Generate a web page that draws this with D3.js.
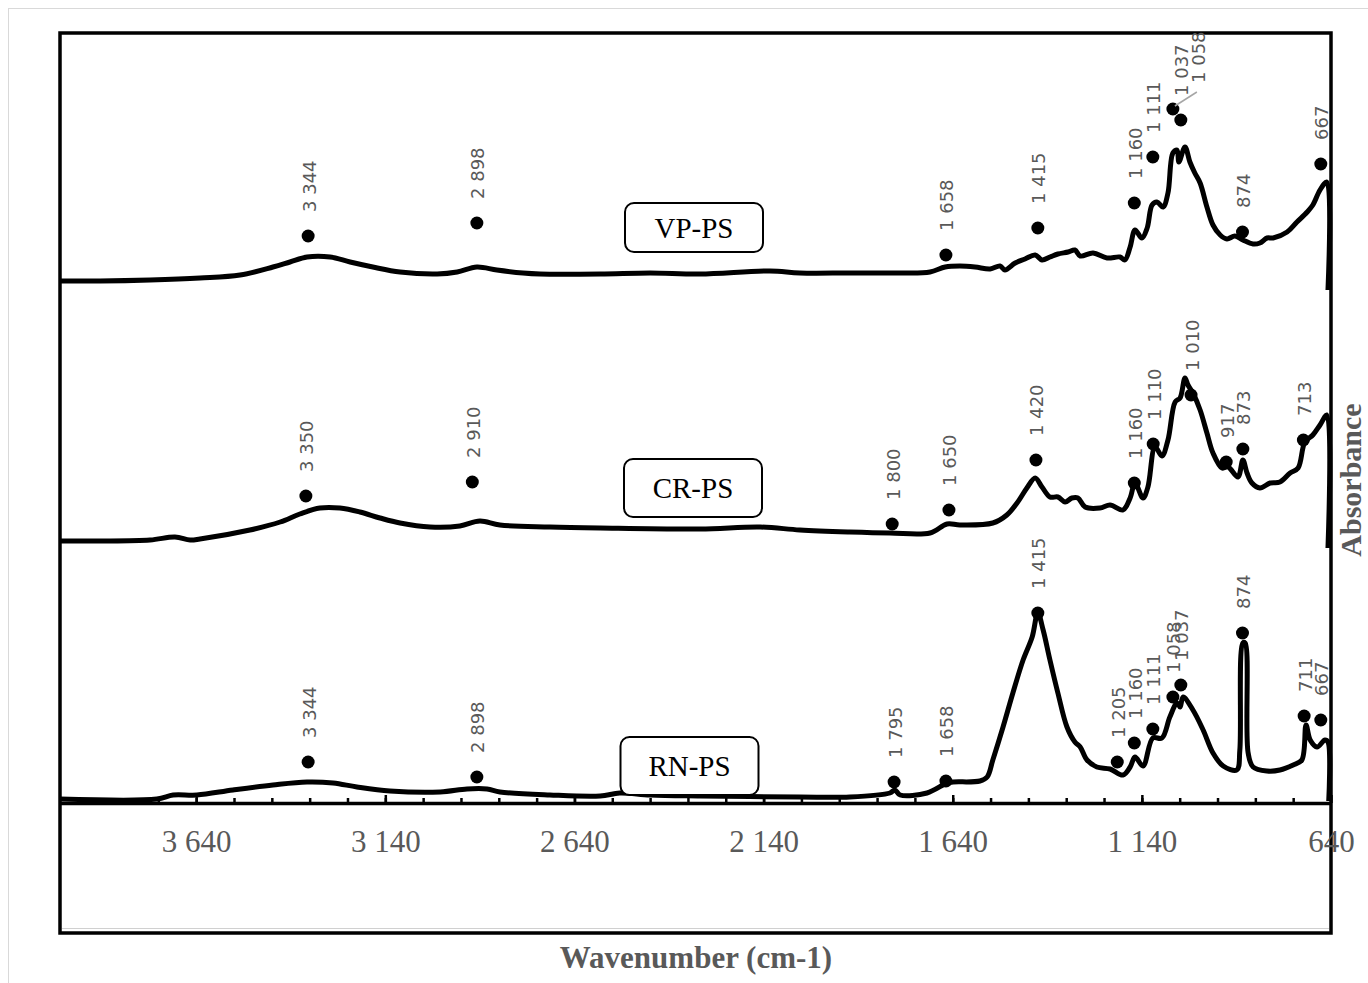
<!DOCTYPE html>
<html>
<head>
<meta charset="utf-8">
<script src="https://cdn.jsdelivr.net/npm/d3@7"></script>
<style>
  body { margin: 0; background: #ffffff; }
  svg { display: block; }
</style>
</head>
<body>
<svg id="chart" width="1368" height="983"></svg>
<script>
// spectra (wavenumber cm-1 / absorbance, stacked offsets already included)
var seriesNames = ["VP-PS", "CR-PS", "RN-PS"];

var vpWavenumber = [4000, 3894, 3762, 3630, 3524, 3437, 3392, 3347, 3286, 3233, 3173, 3101, 3003, 2950, 2898, 2845, 2776, 2731, 2572, 2440, 2308, 2123, 2044, 1912, 1779, 1700, 1660, 1621, 1581, 1541, 1515, 1502, 1475, 1449, 1422, 1404, 1383, 1362, 1335, 1317, 1303, 1269, 1232, 1198, 1185, 1171, 1158, 1140, 1126, 1113, 1100, 1084, 1071, 1058, 1047, 1042, 1026, 1013, 1000, 986, 968, 952, 933, 915, 894, 873, 846, 828, 809, 793, 756, 730, 703, 688, 669, 651, 648];
var vpAbsorbance = [5.22, 5.22, 5.23, 5.25, 5.28, 5.36, 5.41, 5.46, 5.46, 5.41, 5.36, 5.31, 5.29, 5.31, 5.36, 5.33, 5.30, 5.29, 5.29, 5.30, 5.29, 5.32, 5.30, 5.30, 5.30, 5.31, 5.36, 5.37, 5.36, 5.34, 5.37, 5.33, 5.40, 5.44, 5.48, 5.43, 5.46, 5.49, 5.51, 5.53, 5.47, 5.50, 5.45, 5.46, 5.43, 5.56, 5.73, 5.65, 5.75, 5.98, 6.01, 5.96, 6.10, 6.50, 6.53, 6.41, 6.56, 6.41, 6.30, 6.20, 5.96, 5.78, 5.68, 5.64, 5.67, 5.63, 5.59, 5.60, 5.65, 5.65, 5.71, 5.81, 5.91, 5.98, 6.13, 6.21, 5.13];

var crWavenumber = [4000, 3894, 3762, 3696, 3656, 3630, 3498, 3418, 3366, 3313, 3260, 3207, 3154, 3101, 3022, 2943, 2890, 2837, 2705, 2572, 2308, 2149, 2044, 1912, 1806, 1700, 1655, 1621, 1534, 1497, 1470, 1444, 1422, 1404, 1383, 1362, 1343, 1325, 1309, 1290, 1251, 1224, 1190, 1171, 1158, 1137, 1124, 1105, 1087, 1071, 1052, 1039, 1026, 1018, 1005, 986, 968, 952, 928, 912, 886, 873, 862, 849, 828, 801, 775, 748, 727, 709, 688, 669, 651, 648];
var crAbsorbance = [2.62, 2.62, 2.63, 2.66, 2.63, 2.64, 2.73, 2.81, 2.89, 2.95, 2.95, 2.91, 2.85, 2.80, 2.76, 2.77, 2.82, 2.78, 2.76, 2.75, 2.74, 2.76, 2.73, 2.71, 2.70, 2.70, 2.79, 2.78, 2.80, 2.88, 3.00, 3.15, 3.25, 3.16, 3.06, 3.06, 3.01, 3.05, 3.05, 2.96, 2.95, 2.98, 2.93, 3.05, 3.20, 3.05, 3.16, 3.56, 3.47, 3.63, 4.01, 4.05, 4.25, 4.18, 4.10, 3.93, 3.70, 3.50, 3.35, 3.36, 3.26, 3.43, 3.30, 3.20, 3.15, 3.20, 3.21, 3.30, 3.35, 3.61, 3.68, 3.78, 3.88, 2.55];

var rnWavenumber = [4000, 3744, 3701, 3638, 3543, 3437, 3347, 3278, 3215, 3128, 2995, 2924, 2871, 2837, 2705, 2572, 2520, 2440, 2308, 2044, 1912, 1806, 1793, 1779, 1708, 1655, 1639, 1568, 1549, 1534, 1507, 1481, 1454, 1430, 1415, 1401, 1383, 1362, 1338, 1317, 1303, 1285, 1259, 1224, 1190, 1171, 1158, 1137, 1111, 1087, 1066, 1047, 1039, 1031, 1005, 978, 952, 925, 889, 881, 873, 867, 859, 846, 809, 775, 740, 717, 706, 695, 677, 656, 648, 646];
var rnAbsorbance = [0.04, 0.04, 0.08, 0.08, 0.13, 0.18, 0.21, 0.20, 0.16, 0.12, 0.11, 0.14, 0.14, 0.11, 0.08, 0.07, 0.10, 0.08, 0.07, 0.06, 0.06, 0.10, 0.13, 0.08, 0.10, 0.20, 0.21, 0.22, 0.26, 0.43, 0.76, 1.10, 1.43, 1.66, 1.90, 1.73, 1.43, 1.10, 0.76, 0.61, 0.56, 0.43, 0.36, 0.34, 0.28, 0.36, 0.46, 0.37, 0.65, 0.65, 0.86, 1.00, 0.96, 1.06, 0.93, 0.73, 0.50, 0.37, 0.33, 0.53, 1.60, 1.60, 0.50, 0.36, 0.32, 0.33, 0.38, 0.43, 0.78, 0.63, 0.56, 0.63, 0.61, 0.02];

// marked bands
var vpPeakWavenumber = [3344, 2898, 1658, 1415, 1160, 1111, 1058, 1037, 874, 667];
var vpPeakAbsorbance = [5.67, 5.80, 5.48, 5.75, 6.00, 6.46, 6.94, 6.83, 5.71, 6.39];
var crPeakWavenumber = [3350, 2910, 1800, 1650, 1420, 1160, 1110, 1010, 917, 873, 713];
var crPeakAbsorbance = [3.07, 3.21, 2.79, 2.93, 3.43, 3.20, 3.59, 4.08, 3.41, 3.54, 3.63];
var rnPeakWavenumber = [3344, 2898, 1795, 1658, 1415, 1205, 1160, 1111, 1058, 1037, 874, 711, 667];
var rnPeakAbsorbance = [0.41, 0.26, 0.21, 0.22, 1.90, 0.41, 0.60, 0.74, 1.06, 1.18, 1.70, 0.87, 0.83];

var xTickLabels = [3640, 3140, 2640, 2140, 1640, 1140, 640];

// ---- drawing ----
var svg = d3.select("#chart");
var fmt = d3.formatLocale({decimal: ",", thousands: " ", grouping: [3], currency: ["", ""]}).format(",d");

var x = d3.scaleLinear().domain([4000, 640]).range([60, 1331]);
var y = d3.scaleLinear().domain([0, 7.7]).range([803, 33]);

// faint outer border of the chart object
svg.append("rect")
    .attr("x", 8.5).attr("y", 8.5)
    .attr("width", 1400).attr("height", 1000)
    .attr("fill", "none").attr("stroke", "#d9d9d9").attr("stroke-width", 1);

// plot frame
svg.append("rect")
    .attr("x", 60).attr("y", 33)
    .attr("width", 1271).attr("height", 900)
    .attr("fill", "none").attr("stroke", "#000").attr("stroke-width", 3.5);
svg.append("line")
    .attr("x1", 62).attr("x2", 1329).attr("y1", 928.5).attr("y2", 928.5)
    .attr("stroke", "#d0d0d0").attr("stroke-width", 1);

// minor ticks every 100
var minor = svg.append("g")
    .attr("transform", "translate(0,803)")
    .call(d3.axisBottom(x).tickValues(d3.range(740, 4000, 100)).tickSize(-5).tickSizeOuter(0).tickFormat(""));
minor.select(".domain").remove();
minor.selectAll("line").attr("stroke", "#000").attr("stroke-width", 2.5);

// major ticks + labels
var xAxis = svg.append("g")
    .attr("transform", "translate(0,803)")
    .call(d3.axisBottom(x).tickValues(xTickLabels).tickSize(-8).tickSizeOuter(0).tickPadding(27).tickFormat(fmt));
xAxis.select(".domain").attr("stroke", "#000").attr("stroke-width", 3.5);
xAxis.selectAll("line").attr("stroke", "#000").attr("stroke-width", 2.5);
xAxis.selectAll("text")
    .style("font-family", "'Liberation Serif', 'Times New Roman', serif")
    .style("font-size", "31px")
    .style("fill", "#595959");

// axis titles
svg.append("text")
    .attr("x", 696).attr("y", 968)
    .attr("text-anchor", "middle")
    .style("font-family", "'Liberation Serif', 'Times New Roman', serif")
    .style("font-weight", "bold").style("font-size", "31px")
    .style("fill", "#595959")
    .text("Wavenumber (cm-1)");

svg.append("text")
    .attr("transform", "translate(1361,480) rotate(-90)")
    .attr("text-anchor", "middle")
    .style("font-family", "'Liberation Serif', 'Times New Roman', serif")
    .style("font-weight", "bold").style("font-size", "30px")
    .style("fill", "#595959")
    .text("Absorbance");

var series = [
    {name: seriesNames[0], pts: d3.zip(vpWavenumber, vpAbsorbance), peaks: d3.zip(vpPeakWavenumber, vpPeakAbsorbance)},
    {name: seriesNames[1], pts: d3.zip(crWavenumber, crAbsorbance), peaks: d3.zip(crPeakWavenumber, crPeakAbsorbance)},
    {name: seriesNames[2], pts: d3.zip(rnWavenumber, rnAbsorbance), peaks: d3.zip(rnPeakWavenumber, rnPeakAbsorbance)}
];

var line = d3.line()
    .x(function(d) { return x(d[0]); })
    .y(function(d) { return y(d[1]); })
    .curve(d3.curveCatmullRom.alpha(0.5));

svg.selectAll(".spectrum")
    .data(series)
    .enter()
    .append("path")
        .attr("class", "spectrum")
        .attr("d", function(d) { return line(d.pts); })
        .attr("fill", "none")
        .attr("stroke", "#000")
        .attr("stroke-width", 5)
        .attr("stroke-linejoin", "round")
        .attr("stroke-linecap", "butt");

// one label was pulled aside with a leader line in the original
var nudge = {"VP-PS|1058": {dx: 25, dy: -2, leader: true}};

series.forEach(function(s) {
    var g = svg.append("g");
    g.selectAll("circle")
        .data(s.peaks)
        .enter()
        .append("circle")
            .attr("cx", function(d) { return x(d[0]); })
            .attr("cy", function(d) { return y(d[1]); })
            .attr("r", 6.5)
            .attr("fill", "#000");

    s.peaks.forEach(function(d) {
        var n = nudge[s.name + "|" + d[0]] || {dx: 0, dy: 0};
        var px = x(d[0]) + 1 + n.dx, py = y(d[1]) - 24 + n.dy;
        if (n.leader) {
            g.append("line")
                .attr("x1", x(d[0]) + 2).attr("y1", y(d[1]) - 3)
                .attr("x2", px - 2).attr("y2", py + 9)
                .attr("stroke", "#a6a6a6").attr("stroke-width", 1.5);
        }
        g.append("text")
            .attr("transform", "translate(" + px + "," + py + ") rotate(-90)")
            .attr("dy", "0.36em")
            .style("font-family", "'DejaVu Sans', sans-serif")
            .style("font-size", "18px")
            .style("fill", "#595959")
            .text(fmt(d[0]));
    });
});

// sample name boxes
var boxes = [
    {name: seriesNames[0], cx: 694, cy: 227.5, h: 49},
    {name: seriesNames[1], cx: 693, cy: 488, h: 58},
    {name: seriesNames[2], cx: 689.5, cy: 766, h: 58}
];
var bg = svg.selectAll(".namebox").data(boxes).enter().append("g").attr("class", "namebox");
bg.append("rect")
    .attr("x", function(d) { return d.cx - 69; })
    .attr("y", function(d) { return d.cy - d.h / 2; })
    .attr("width", 138)
    .attr("height", function(d) { return d.h; })
    .attr("rx", 9)
    .attr("fill", "#fff")
    .attr("stroke", "#000")
    .attr("stroke-width", 2);
bg.append("text")
    .attr("x", function(d) { return d.cx; })
    .attr("y", function(d) { return d.cy + 10; })
    .attr("text-anchor", "middle")
    .style("font-family", "'Liberation Serif', 'Times New Roman', serif")
    .style("font-size", "29px")
    .style("fill", "#000")
    .text(function(d) { return d.name; });
</script>
</body>
</html>
